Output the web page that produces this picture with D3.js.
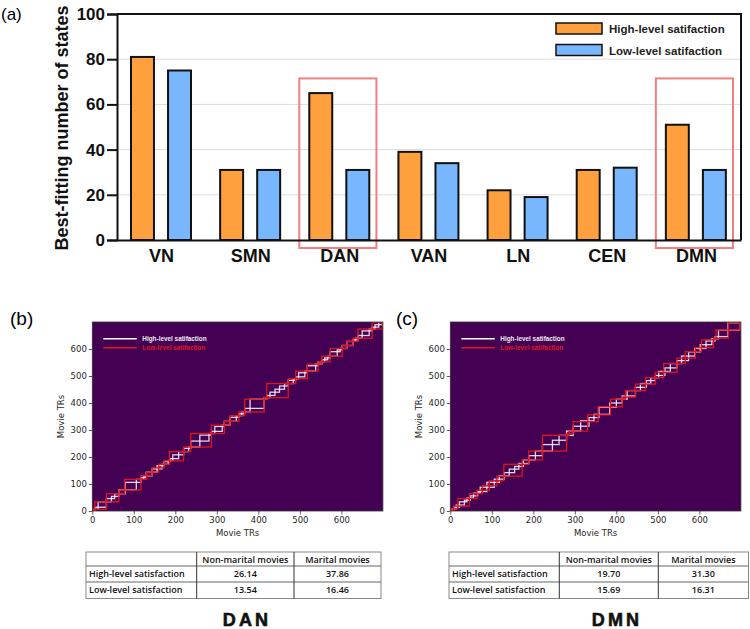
<!DOCTYPE html>
<html>
<head>
<meta charset="utf-8">
<script src="https://cdn.jsdelivr.net/npm/d3@7/dist/d3.min.js"></script>
<style>
  body { margin: 0; background: #fff; }
  svg { display: block; }
</style>
</head>
<body>
<svg id="fig" width="750" height="629"></svg>
<script>
// ---- data ----
const categories = ["VN", "SMN", "DAN", "VAN", "LN", "CEN", "DMN"];
const highLevel = [81, 31, 65, 39, 22, 31, 51];
const lowLevel = [75, 31, 31, 34, 19, 32, 31];
const seriesNames = ["High-level satifaction", "Low-level satifaction"];
const highlighted = ["DAN", "DMN"];
const yTicksA = [0, 20, 40, 60, 80, 100];

// event boundaries (TRs)
const danHighEdges = [0, 6, 14, 34, 46, 54, 64, 79, 106, 117, 124, 130, 144, 156, 168, 173, 183, 187, 194, 208, 220,
  232, 237, 259, 281, 287, 295, 313, 318, 332, 347, 353, 360, 367, 380, 414, 420, 428, 440, 451, 463, 472, 484,
  490, 497, 512, 518, 538, 544, 553, 560, 567, 573, 590, 597, 602, 613, 628, 634, 640, 650, 667, 674, 681, 690, 699];
const danLowEdges = [0, 6, 34, 64, 78, 117, 131, 144, 160, 173, 186, 220, 237, 287, 318, 332, 353, 367, 414, 420,
  472, 490, 518, 544, 553, 573, 602, 613, 628, 640, 674, 699];
const dmnHighEdges = [0, 8, 14, 22, 34, 40, 48, 56, 66, 72, 88, 106, 118, 130, 142, 155, 165, 176, 189, 205, 222,
  246, 262, 280, 296, 314, 334, 346, 358, 384, 400, 414, 426, 446, 458, 472, 483, 494, 502, 517, 530, 546, 557,
  574, 589, 602, 616, 630, 638, 646, 669, 697];
const dmnLowEdges = [0, 8, 18, 46, 64, 77, 94, 112, 129, 173, 189, 222, 280, 286, 296, 331, 356, 386, 414, 422,
  446, 470, 494, 514, 546, 566, 590, 605, 634, 640, 670, 697];
const trTicks = [0, 100, 200, 300, 400, 500, 600];

const tableCols = ["Non-marital movies", "Marital movies"];
const tableRows = ["High-level satisfaction", "Low-level satisfaction"];
const danTable = [["26.14", "37.86"], ["13.54", "16.46"]];
const dmnTable = [["19.70", "31.30"], ["15.69", "16.31"]];

const ORANGE = "#ffa03e";
const BLUE = "#78b6fd";
const svg = d3.select("#fig");

// ---- panel (a) ----
const x = d3.scaleBand().domain(categories).range([117, 741]);
const xs = d3.scaleBand().domain([0, 1]).range([14, 74]).paddingInner(0.38);
const y = d3.scaleLinear().domain([0, 100]).range([240, 14]);

const ga = svg.append("g").attr("font-family", "'Liberation Sans', Arial, sans-serif");

ga.append("text").attr("x", 1).attr("y", 20).attr("font-size", 17).text("(a)");

// grid
ga.append("g").selectAll("line").data(yTicksA.filter(d => d > 0 && d < 100)).join("line")
  .attr("x1", 117).attr("x2", 741)
  .attr("y1", d => y(d)).attr("y2", d => y(d))
  .attr("stroke", "#dcdcdc").attr("stroke-width", 1);

// bars
const groups = ga.append("g").selectAll("g").data(categories).join("g")
  .attr("transform", d => `translate(${x(d)},0)`);
groups.selectAll("rect")
  .data((d, i) => [highLevel[i], lowLevel[i]])
  .join("rect")
  .attr("x", (d, j) => xs(j))
  .attr("width", xs.bandwidth())
  .attr("y", d => y(d))
  .attr("height", d => y(0) - y(d))
  .attr("fill", (d, j) => j === 0 ? ORANGE : BLUE)
  .attr("stroke", "#111").attr("stroke-width", 2);

// highlight boxes
ga.append("g").selectAll("rect").data(highlighted).join("rect")
  .attr("x", d => x(d) + 4)
  .attr("width", x.bandwidth() - 12)
  .attr("y", y(71.5))
  .attr("height", 248 - y(71.5))
  .attr("fill", "none").attr("stroke", "#f47f80").attr("stroke-width", 2);

// frame
ga.append("path")
  .attr("d", `M117,14H741V240`)
  .attr("fill", "none").attr("stroke", "#111").attr("stroke-width", 2);

const yAxisA = ga.append("g").attr("transform", "translate(117,0)")
  .call(d3.axisLeft(y).tickValues(yTicksA).tickSize(10).tickPadding(2));
yAxisA.select(".domain").attr("stroke", "#111").attr("stroke-width", 2);
yAxisA.selectAll(".tick line").attr("stroke", "#111").attr("stroke-width", 2);
yAxisA.selectAll(".tick text").attr("font-size", 17).attr("font-weight", "bold")
  .attr("font-family", "'Liberation Sans', Arial, sans-serif").attr("fill", "#111");

const xAxisA = ga.append("g").attr("transform", "translate(0,240)")
  .call(d3.axisBottom(x).tickSize(0).tickPadding(9));
xAxisA.select(".domain").attr("stroke", "#111").attr("stroke-width", 2);
xAxisA.selectAll(".tick text").attr("font-size", 18).attr("font-weight", "bold")
  .attr("font-family", "'Liberation Sans', Arial, sans-serif").attr("fill", "#111");

ga.append("text")
  .attr("transform", "translate(68,128) rotate(-90)")
  .attr("text-anchor", "middle")
  .attr("font-size", 18).attr("font-weight", "bold").attr("fill", "#111")
  .text("Best-fitting number of states");

// legend
const lg = ga.append("g").attr("transform", "translate(556,23)");
seriesNames.forEach((name, i) => {
  lg.append("rect").attr("x", 0).attr("y", i * 21.5).attr("width", 46).attr("height", 11)
    .attr("fill", i === 0 ? ORANGE : BLUE).attr("stroke", "#111").attr("stroke-width", 1.5);
  lg.append("text").attr("x", 53).attr("y", i * 21.5 + 10)
    .attr("font-size", 11.5).attr("font-weight", "bold").attr("fill", "#222").text(name);
});

// ---- panels (b) and (c) ----
function matrixPanel(opt) {
  const g = svg.append("g");
  const sx = d3.scaleLinear().domain([0, 700]).range([opt.left, opt.left + 290.6]);
  const sy = d3.scaleLinear().domain([0, 700]).range([511, 322]);

  g.append("text").attr("x", opt.labelX).attr("y", 325)
    .attr("font-family", "'Liberation Sans', Arial, sans-serif")
    .attr("font-size", 19).text(opt.label);

  g.append("rect").attr("x", sx(0)).attr("y", sy(700))
    .attr("width", sx(700) - sx(0)).attr("height", sy(0) - sy(700))
    .attr("fill", "#440154");

  const clip = "clip-" + opt.label.replace(/[()]/g, "");
  g.append("clipPath").attr("id", clip).append("rect")
    .attr("x", sx(0)).attr("y", sy(700))
    .attr("width", sx(700) - sx(0)).attr("height", sy(0) - sy(700));

  const boxes = g.append("g").attr("clip-path", `url(#${clip})`);
  function drawEvents(edges, color, width) {
    const ev = d3.pairs(edges);
    boxes.append("g").selectAll("rect").data(ev).join("rect")
      .attr("x", d => sx(d[0]))
      .attr("y", d => sy(d[1]))
      .attr("width", d => sx(d[1]) - sx(d[0]))
      .attr("height", d => sy(d[0]) - sy(d[1]))
      .attr("fill", "none").attr("stroke", color).attr("stroke-width", width);
  }
  drawEvents(opt.high, "rgba(240,236,248,0.9)", 1.3);
  drawEvents(opt.low, "#e0141e", 1.3);

  g.append("rect").attr("x", sx(0)).attr("y", sy(700))
    .attr("width", sx(700) - sx(0)).attr("height", sy(0) - sy(700))
    .attr("fill", "none").attr("stroke", "#333").attr("stroke-width", 0.8);

  // inner legend
  const leg = g.append("g").attr("transform", `translate(${opt.left + 11},0)`);
  [["#ffffff", "#efe9f3", seriesNames[0]], ["#e0141e", "#e0141e", seriesNames[1]]]
    .forEach((d, i) => {
      leg.append("line").attr("x1", 0).attr("x2", 33.5)
        .attr("y1", 338.7 + i * 9).attr("y2", 338.7 + i * 9)
        .attr("stroke", d[0]).attr("stroke-width", 1.5);
      leg.append("text").attr("x", 39).attr("y", 341 + i * 9)
        .attr("font-family", "'Liberation Sans', Arial, sans-serif")
        .attr("font-size", 6.4).attr("font-weight", "bold")
        .attr("fill", d[1]).text(d[2]);
    });

  const axisFont = "'DejaVu Sans', sans-serif";
  const ax = g.append("g").attr("transform", "translate(0,511)")
    .call(d3.axisBottom(sx).tickValues(trTicks).tickSize(3.5).tickPadding(2));
  const ay = g.append("g").attr("transform", `translate(${sx(0)},0)`)
    .call(d3.axisLeft(sy).tickValues(trTicks).tickSize(3.5).tickPadding(2));
  [ax, ay].forEach(a => {
    a.select(".domain").remove();
    a.selectAll(".tick line").attr("stroke", "#333").attr("stroke-width", 0.8);
    a.selectAll(".tick text").attr("font-family", axisFont).attr("font-size", 8.5).attr("fill", "#262626");
  });

  g.append("text").attr("x", (sx(0) + sx(700)) / 2).attr("y", 536)
    .attr("text-anchor", "middle").attr("font-family", axisFont)
    .attr("font-size", 8.5).attr("fill", "#262626").text("Movie TRs");
  g.append("text")
    .attr("transform", `translate(${opt.left - 28},${(sy(0) + sy(700)) / 2}) rotate(-90)`)
    .attr("text-anchor", "middle").attr("font-family", axisFont)
    .attr("font-size", 8.5).attr("fill", "#262626").text("Movie TRs");

  // table
  const colEdges = opt.cols;
  const rowEdges = [552, 566, 582, 598.5];
  const tg = g.append("g").attr("font-family", "'Open Sans', sans-serif")
    .attr("font-size", 9).attr("font-weight", 600).attr("fill", "#111");
  tg.append("rect").attr("x", colEdges[0]).attr("y", rowEdges[0])
    .attr("width", colEdges[3] - colEdges[0]).attr("height", rowEdges[3] - rowEdges[0])
    .attr("fill", "none").attr("stroke", "#8a8a8a").attr("stroke-width", 1);
  rowEdges.slice(1, 3).forEach(r => tg.append("line")
    .attr("x1", colEdges[0]).attr("x2", colEdges[3]).attr("y1", r).attr("y2", r)
    .attr("stroke", "#666").attr("stroke-width", 1));
  colEdges.slice(1, 3).forEach(c => tg.append("line")
    .attr("x1", c).attr("x2", c).attr("y1", rowEdges[0]).attr("y2", rowEdges[3])
    .attr("stroke", "#333").attr("stroke-width", 1));
  tableCols.forEach((c, j) => tg.append("text")
    .attr("x", (colEdges[j + 1] + colEdges[j + 2]) / 2).attr("y", rowEdges[0] + 10.5)
    .attr("text-anchor", "middle").text(c));
  tableRows.forEach((r, i) => {
    tg.append("text").attr("x", colEdges[0] + 3).attr("y", rowEdges[i + 1] + 11).text(r);
    opt.table[i].forEach((v, j) => tg.append("text")
      .attr("x", (colEdges[j + 1] + colEdges[j + 2]) / 2).attr("y", rowEdges[i + 1] + 11)
      .attr("text-anchor", "middle").text(v));
  });

  g.append("text").attr("x", opt.titleX).attr("y", 626)
    .attr("text-anchor", "middle")
    .attr("font-family", "'Liberation Sans', Arial, sans-serif")
    .attr("font-size", 18).attr("font-weight", "bold").attr("letter-spacing", 3.2)
    .attr("fill", "#111").attr("stroke", "#111").attr("stroke-width", 0.6)
    .text(opt.title);
}

matrixPanel({
  label: "(b)", labelX: 10, left: 92.3,
  high: danHighEdges, low: danLowEdges,
  cols: [86, 196.7, 294, 381], table: danTable,
  title: "DAN", titleX: 247
});
matrixPanel({
  label: "(c)", labelX: 396, left: 450.3,
  high: dmnHighEdges, low: dmnLowEdges,
  cols: [449, 559.3, 658.3, 748.5], table: dmnTable,
  title: "DMN", titleX: 617
});
</script>
</body>
</html>
